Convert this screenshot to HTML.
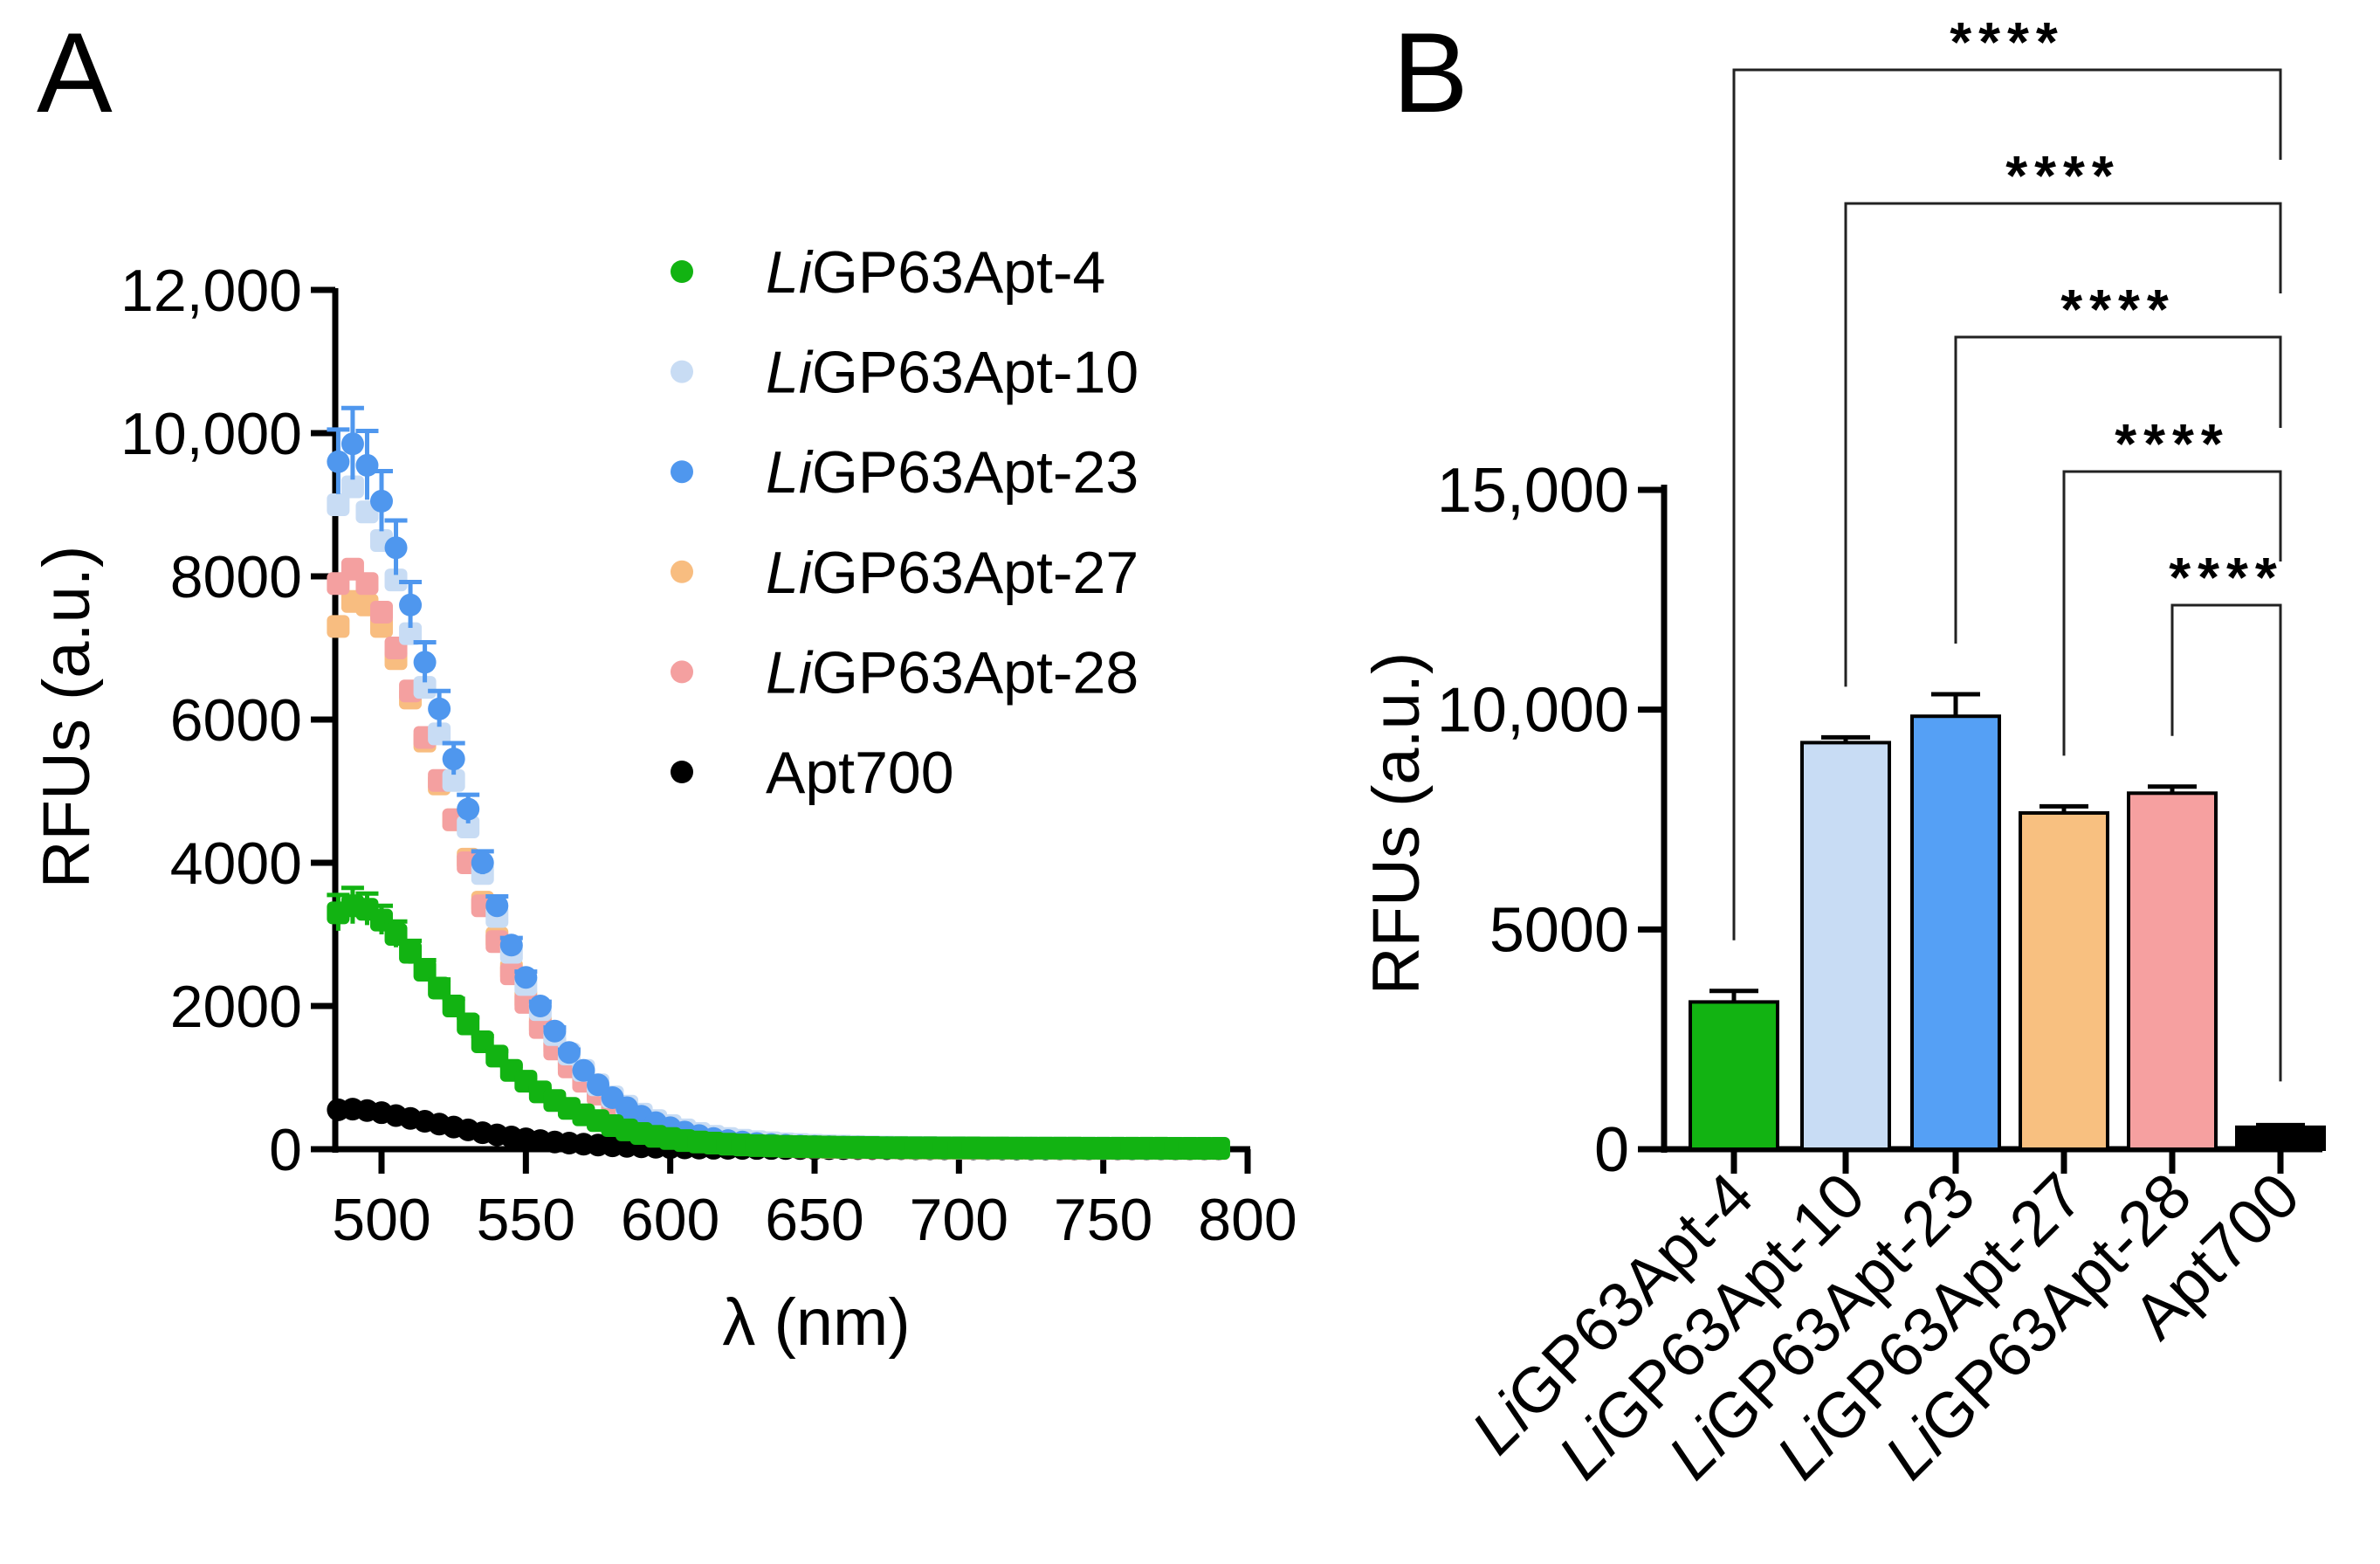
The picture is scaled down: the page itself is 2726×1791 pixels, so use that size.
<!DOCTYPE html>
<html><head><meta charset="utf-8"><style>
html,body{margin:0;padding:0;background:#fff;}
svg{display:block;font-family:"Liberation Sans",Arial,sans-serif;}
</style></head><body>
<svg id="fig" width="2726" height="1791" viewBox="0 0 2726 1791" xmlns="http://www.w3.org/2000/svg">
<text x="42" y="128" font-size="130">A</text>
<text x="1595" y="128" font-size="130">B</text>
<g id="pa"></g>
<g id="pb"></g>
</svg>
<script>
// ---------- Panel A data ----------
const waves = [485,490,495,500,505,510,515,520,525,530,535,540,545,550,555,560,565,570,575,580,585,590,595,600,605,610,615,620,625,630,635,640,645,650,655,660,665,670,675,680,685,690,695,700,705,710,715,720,725,730,735,740,745,750,755,760,765,770,775,780,785,790];
const apt4 = [3300,3400,3350,3200,3000,2750,2500,2250,2000,1750,1500,1300,1100,950,800,680,570,480,400,330,270,220,180,150,120,100,85,70,60,50,45,40,36,33,30,28,26,24,22,21,20,20,19,18,18,17,17,16,16,15,15,15,14,14,14,13,13,13,12,12,12,12];
const apt10 = [9000,9250,8900,8500,7950,7200,6450,5800,5150,4500,3850,3250,2750,2300,1950,1600,1330,1100,900,730,600,490,400,330,270,220,180,150,125,105,90,75,65,55,48,42,38,34,30,28,26,24,22,21,20,19,18,18,17,17,16,16,15,15,15,14,14,14,13,13,13,13];
const apt23 = [9600,9850,9550,9050,8400,7600,6800,6150,5450,4750,4000,3400,2850,2400,2000,1650,1350,1100,900,720,580,460,370,300,240,190,150,120,100,80,65,55,45,40,35,30,28,25,22,20,18,17,16,15,15,14,14,13,13,12,12,12,11,11,11,10,10,10,10,10,10,10];
const apt27 = [7300,7650,7600,7300,6850,6300,5700,5100,4600,4050,3450,2950,2500,2100,1750,1450,1200,980,800,650,520,410,330,260,210,165,130,100,80,65,50,40,34,30,26,24,22,20,18,17,16,15,15,14,14,13,13,12,12,12,11,11,11,10,10,10,10,10,10,10,10,10];
const apt28 = [7900,8100,7900,7500,7000,6400,5750,5150,4600,4000,3400,2900,2450,2050,1700,1400,1150,950,770,620,500,400,320,250,200,160,125,100,80,60,50,42,36,31,27,24,22,20,18,17,16,15,15,14,14,13,13,12,12,12,11,11,11,10,10,10,10,10,10,10,10,10];
const apt700 = [550,560,540,510,470,430,390,350,310,270,230,200,170,145,120,100,85,70,58,48,40,33,27,22,18,15,13,12,11,10,10,9,9,8,8,8,7,7,7,7,6,6,6,6,6,6,5,5,5,5,5,5,5,5,5,5,5,5,5,5,5,5];
const err4 = [250,250,220,200,180,160,140,120,100,90,80,70,60,50,40,35,30,25,20,18,15,12,10,8,6,5,4,3,3,2,2,2,2,2,2,2,2,2,2,2,2,2,2,2,2,2,2,2,2,2,2,2,2,2,2,2,2,2,2,2,2,2];
const err23 = [450,500,480,420,380,320,280,250,220,200,160,130,100,80,60,50,40,30,25,20,15,12,10,8,6,5,4,3,3,2,2,2,2,2,2,2,2,2,2,2,2,2,2,2,2,2,2,2,2,2,2,2,2,2,2,2,2,2,2,2,2,2];
const yTicksA = [0,2000,4000,6000,8000,10000,12000];
const yTickLabelsA = ["0","2000","4000","6000","8000","10,000","12,000"];
const xTicksA = [500,550,600,650,700,750,800];
const legendLabels = ["GP63Apt-4","GP63Apt-10","GP63Apt-23","GP63Apt-27","GP63Apt-28","Apt700"];

// ---------- Panel B data ----------
const barCats = ["GP63Apt-4","GP63Apt-10","GP63Apt-23","GP63Apt-27","GP63Apt-28","Apt700"];
const barVals = [3350,9250,9850,7650,8100,500];
const barErrs = [250,120,500,150,150,50];
const yTicksB = [0,5000,10000,15000];
const yTickLabelsB = ["0","5000","10,000","15,000"];
const sigLabels = ["****","****","****","****","****"];

const NS = "http://www.w3.org/2000/svg";
function mk(parent, tag, attrs){const e=document.createElementNS(NS,tag);for(const k in attrs)e.setAttribute(k,attrs[k]);parent.appendChild(e);return e;}

// ---------- Panel A ----------
const pa = document.getElementById('pa');
const ax0 = 384, ay0 = 1316, ayTop = 332;
const xA = v => 437 + (v-500)*(1429-437)/300;
const yA = v => ay0 - v*(ay0-ayTop)/12000;
let l = mk(pa,'line',{x1:ax0,y1:ayTop-2,x2:ax0,y2:ay0+4,stroke:'#000','stroke-width':7});


l = mk(pa,'line',{x1:ax0-4,y1:ay0,x2:1432,y2:ay0,stroke:'#000','stroke-width':7});


yTicksA.forEach((v,i)=>{
  const t = mk(pa,'line',{x1:ax0-28,y1:yA(v),x2:ax0,y2:yA(v),stroke:'#000','stroke-width':7});
  
  
  const tx = mk(pa,'text',{x:ax0-38,y:yA(v)+24,'font-size':68,'text-anchor':'end'});
  tx.textContent = yTickLabelsA[i];
  
  
});
xTicksA.forEach(v=>{
  const t = mk(pa,'line',{x1:xA(v),y1:ay0,x2:xA(v),y2:ay0+28,stroke:'#000','stroke-width':7});
  
  
  const tx = mk(pa,'text',{x:xA(v),y:ay0+104,'font-size':68,'text-anchor':'middle'});
  tx.textContent = v;
  
  
});
let tt = mk(pa,'text',{x:935,y:1540,'font-size':76,'text-anchor':'middle'});
tt.textContent = 'λ (nm)';


tt = mk(pa,'text',{x:0,y:0,'font-size':76,'text-anchor':'middle',transform:'translate(102,821) rotate(-90)'});
tt.textContent = 'RFUs (a.u.)';



const seriesList = [
  {vals:apt700, err:null, color:'#000000', shape:'c', name:'series-apt700'},
  {vals:apt27, err:null, color:'#f8bd80', shape:'s', name:'series-apt27'},
  {vals:apt28, err:null, color:'#f4a0a0', shape:'s', name:'series-apt28'},
  {vals:apt10, err:null, color:'#c8dcf4', shape:'s', name:'series-apt10'},
  {vals:apt23, err:err23, color:'#4f97ee', shape:'c', name:'series-apt23'},
  {vals:apt4, err:err4, color:'#12b312', shape:'s', name:'series-apt4'}
];
seriesList.forEach(s=>{
  const g = mk(pa,'g',{});
  
  
  s.vals.forEach((v,i)=>{
    const cx = xA(waves[i]), cy = yA(v);
    if(s.err && s.err[i]>30){
      const e = s.err[i];
      mk(g,'path',{d:`M${cx},${yA(v-e)}V${yA(v+e)}M${cx-13},${yA(v+e)}H${cx+13}`,stroke:s.color,'stroke-width':5,fill:'none'});
    }
    let m;
    if(s.shape==='c') m = mk(g,'circle',{cx:cx,cy:cy,r:13,fill:s.color});
    else m = mk(g,'rect',{x:cx-13,y:cy-13,width:26,height:26,rx:6,fill:s.color});
    
    
  });
});
const legColors = ['#12b312','#c8dcf4','#4f97ee','#f8bd80','#f4a0a0','#000000'];
legendLabels.forEach((lab,i)=>{
  const y = 311 + i*114.6;
  const g = mk(pa,'g',{});
  
  
  mk(g,'circle',{cx:781,cy:y,r:13,fill:legColors[i]});
  const tx = mk(g,'text',{x:877,y:y+24,'font-size':68});
  if(i<5){
    const it = mk(tx,'tspan',{'font-style':'italic'}); it.textContent='Li';
    const rs = mk(tx,'tspan',{}); rs.textContent=lab;
  } else tx.textContent = lab;
});

// ---------- Panel B ----------
const pb = document.getElementById('pb');
const bx0 = 1906, by0 = 1316;
const yB = v => by0 - v*(by0-561)/15000;
const barX = [1986,2114,2240,2364,2488,2612];
const barColors = ['#12b312','#c8dcf4','#55a0f5','#f8c080','#f6a0a0','#000000'];
l = mk(pb,'line',{x1:bx0,y1:555,x2:bx0,y2:by0+4,stroke:'#000','stroke-width':7});


l = mk(pb,'line',{x1:bx0-4,y1:by0,x2:2660,y2:by0,stroke:'#000','stroke-width':7});


yTicksB.forEach((v,i)=>{
  const t = mk(pb,'line',{x1:bx0-30,y1:yB(v),x2:bx0,y2:yB(v),stroke:'#000','stroke-width':7});
  
  
  const tx = mk(pb,'text',{x:bx0-40,y:yB(v)+25,'font-size':72,'text-anchor':'end'});
  tx.textContent = yTickLabelsB[i];
  
  
});
tt = mk(pb,'text',{x:0,y:0,'font-size':76,'text-anchor':'middle',transform:'translate(1625,943) rotate(-90)'});
tt.textContent = 'RFUs (a.u.)';


barVals.forEach((v,i)=>{
  const cx = barX[i], w = 100;
  const e = mk(pb,'path',{d:`M${cx},${yB(v)}V${yB(v+barErrs[i])}M${cx-28},${yB(v+barErrs[i])}H${cx+28}`,stroke:'#000','stroke-width':5,fill:'none'});
  
  
  const r = mk(pb,'rect',{x:cx-w/2,y:yB(v),width:w,height:by0-yB(v),fill:barColors[i],stroke:'#000','stroke-width':4});
  
  
  const t = mk(pb,'line',{x1:cx,y1:by0,x2:cx,y2:by0+28,stroke:'#000','stroke-width':7});
  
  
  const tx = mk(pb,'text',{x:0,y:0,'font-size':73,'text-anchor':'end',transform:`translate(${cx+26},${by0+58}) rotate(-45)`});
  if(i<5){
    const it = mk(tx,'tspan',{'font-style':'italic'}); it.textContent='Li';
    const rs = mk(tx,'tspan',{}); rs.textContent=barCats[i];
  } else tx.textContent = barCats[i];
  
  
});
// significance brackets: each compares bar i with last bar
const bracketTop = [80,233,386,540,693];
sigLabels.forEach((s,i)=>{
  const top = bracketTop[i];
  const lx = barX[i], rx = barX[5];
  const leftBottom = yB(barVals[i]+barErrs[i]) - 58;
  const rightBottom = i<4 ? bracketTop[i+1]-50 : yB(barVals[5]+barErrs[5]) - 50;
  const p = mk(pb,'path',{d:`M${lx},${leftBottom}V${top}H${rx}V${rightBottom}`,stroke:'#222','stroke-width':3,fill:'none'});
  
  
  const tx = mk(pb,'text',{x:(lx+rx)/2,y:top-10,'font-size':64,'font-weight':'bold','text-anchor':'middle','letter-spacing':8});
  tx.textContent = s;
  
  
});
</script>
</body></html>
